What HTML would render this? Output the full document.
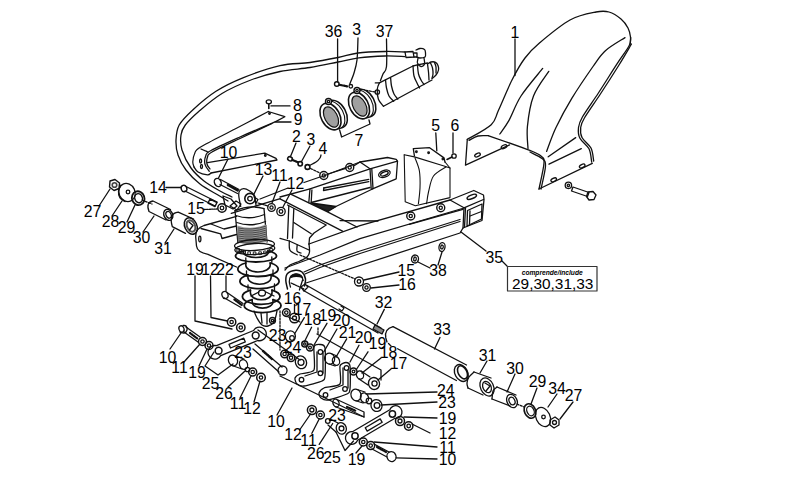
<!DOCTYPE html>
<html><head><meta charset="utf-8"><style>
html,body{margin:0;padding:0;background:#fff;width:800px;height:490px;overflow:hidden}
svg{display:block}
text{font-family:"Liberation Sans",sans-serif;font-size:15.8px;fill:#000}
</style></head><body>
<svg width="800" height="490" viewBox="0 0 800 490">
<g fill="none" stroke="#111" stroke-width="1.3" stroke-linecap="round" stroke-linejoin="round">
<path d="M405.0,52.0 C401.7,51.9 392.8,51.3 385.0,51.5 C377.2,51.7 365.8,52.0 358.0,53.0 C350.2,54.0 346.0,55.9 338.0,57.5 C330.0,59.1 319.7,61.1 310.0,62.5 C300.3,63.9 291.1,63.1 280.0,65.6 C268.9,68.1 254.2,73.3 243.5,77.6 C232.8,81.9 224.4,85.9 216.0,91.3 C207.6,96.7 199.1,104.1 193.0,109.7 C186.9,115.3 182.0,120.0 179.2,125.0 C176.4,130.1 176.2,135.0 176.0,140.0 C175.8,145.0 176.3,150.0 178.0,155.0 C179.7,160.0 182.3,165.2 186.0,170.0 C189.7,174.8 194.7,179.8 200.0,184.0 C205.3,188.2 213.3,192.2 218.0,195.0 C222.7,197.8 226.3,200.0 228.0,201.0" />
<path d="M405.0,56.6 C401.7,56.5 392.7,55.8 385.0,56.0 C377.3,56.2 366.6,56.8 358.8,57.8 C351.0,58.8 346.1,60.4 338.0,62.0 C329.9,63.6 319.7,65.9 310.0,67.5 C300.3,69.1 290.1,69.3 280.0,71.5 C269.9,73.7 259.3,76.8 249.6,80.5 C239.9,84.2 230.4,88.4 222.0,93.5 C213.6,98.6 205.1,106.0 199.0,111.2 C192.9,116.5 188.3,121.0 185.3,125.0 C182.3,129.0 181.6,130.8 181.0,135.0 C180.4,139.2 180.3,144.5 182.0,150.0 C183.7,155.5 187.3,162.8 191.0,168.0 C194.7,173.2 199.2,177.2 204.0,181.0 C208.8,184.8 215.3,188.3 220.0,191.0 C224.7,193.7 230.0,196.0 232.0,197.0" />
<path d="M467.3,139.4 C471.3,137.0 486.0,129.6 491.2,124.7 C496.4,119.8 495.1,117.5 498.6,110.0 C502.1,102.5 507.6,88.7 512.0,80.0 C516.4,71.3 520.3,64.2 525.0,58.0 C529.7,51.8 532.5,48.8 540.0,42.5 C547.5,36.2 560.7,25.1 570.0,20.0 C579.3,14.9 589.5,13.3 596.0,12.0 C602.5,10.7 604.8,10.8 609.0,12.0 C613.2,13.2 617.8,16.3 621.0,19.0 C624.2,21.7 626.4,24.9 628.0,28.0 C629.6,31.1 630.3,34.7 630.6,37.5 C630.9,40.3 630.1,43.8 630.0,45.0" />
<path d="M467.3,139.4 L465.5,165.1 L509.6,144.9" />
<path d="M469.0,140.3 C470.5,139.6 474.8,136.8 478.0,136.0 C481.2,135.2 486.8,135.8 488.5,135.7" />
<path d="M488.5,135.7 C495.4,138.1 521.0,147.0 529.8,150.4 C538.5,153.8 538.6,153.9 541.0,156.0 C543.4,158.1 544.3,157.5 544.0,163.0 C543.7,168.5 539.8,184.7 539.0,189.0" />
<path d="M530.0,152.0 C532.0,153.1 539.4,156.2 542.0,158.5 C544.6,160.8 545.7,160.9 545.5,166.0 C545.3,171.1 541.8,185.2 541.0,189.0" />
<path d="M539.0,189.0 L592.3,163.3" />
<path d="M630.6,37.5 C630.3,38.9 631.3,41.6 629.0,46.0 C626.7,50.4 622.1,56.1 617.0,63.9 C611.9,71.7 604.2,84.2 598.4,93.0 C592.6,101.8 585.7,111.2 582.4,117.0 C579.1,122.8 578.9,124.0 578.5,127.5 C578.1,131.0 578.0,134.4 579.8,138.0 C581.5,141.6 587.0,144.8 589.0,148.8 C591.0,152.8 591.2,159.8 591.7,162.0" />
<path d="M631.5,44.0 C629.4,47.5 624.2,56.7 619.0,65.0 C613.8,73.3 606.2,85.2 600.4,94.0 C594.6,102.8 587.7,112.4 584.4,118.0 C581.1,123.6 581.1,124.2 580.7,127.5 C580.3,130.8 580.3,134.1 582.0,137.5 C583.7,140.9 589.0,144.1 591.0,148.0 C593.0,151.9 593.2,158.8 593.7,161.0" />
<path d="M625.0,37.6 C621.7,39.8 610.7,45.9 605.4,50.7 C600.1,55.5 598.6,58.5 593.0,66.5 C587.4,74.5 578.0,88.2 571.8,98.4 C565.6,108.6 560.2,118.7 556.0,127.5 C551.8,136.3 548.2,147.4 546.6,151.4" />
<path d="M542.7,68.4 C539.1,73.0 526.6,87.3 521.0,96.0 C515.4,104.7 512.5,114.1 509.0,120.4 C505.5,126.7 501.3,131.7 499.8,134.0" />
<path d="M548.8,71.4 C546.2,75.5 537.1,86.8 533.5,96.0 C529.9,105.2 528.3,117.8 527.4,126.6 C526.5,135.4 527.9,144.9 528.0,148.6" />
<path d="M548.2,156.8 L575.7,137.6" />
<path d="M549.0,164.2 L581.3,148.6" />
<ellipse cx="477.5" cy="155" rx="3" ry="1.6" transform="rotate(-25 477.5 155)" />
<ellipse cx="504" cy="146.7" rx="3" ry="1.6" transform="rotate(-25 504 146.7)" />
<ellipse cx="553.7" cy="179.8" rx="3" ry="1.6" transform="rotate(-25 553.7 179.8)" />
<ellipse cx="582.2" cy="166" rx="3" ry="1.6" transform="rotate(-25 582.2 166)" />
<circle cx="568.4" cy="185.3" r="3.2" />
<circle cx="568.4" cy="185.3" r="1.2" />
<path d="M573.0,187.0 L589.0,192.5 L587.5,196.5 L571.5,191.0Z" />
<path d="M588.0,192.0 L593.0,191.5 L596.0,195.0 L594.0,199.5 L589.0,200.0 L586.5,196.5Z" stroke-width="1.3"/>
<line x1="515" y1="39" x2="515" y2="75.5" />
<path d="M379.4,82.9 L413.0,66.0 L417.4,64.8 L427.5,63.0" />
<path d="M383.5,106.3 L432.0,80.0" />
<path d="M379.4,82.9 C379.0,83.9 377.5,86.3 377.3,89.0 C377.1,91.7 377.4,96.3 378.4,99.2 C379.4,102.1 382.6,105.1 383.5,106.3" />
<path d="M375.3,82.9 L379.4,82.9" />
<path d="M385.5,79.8 C385.7,81.2 385.9,85.3 386.5,88.0 C387.1,90.7 387.8,93.8 389.0,96.0 C390.2,98.2 392.9,100.3 393.7,101.2" />
<path d="M390.6,77.8 C390.8,79.2 390.9,83.3 391.5,86.0 C392.1,88.7 392.9,91.8 394.0,94.0 C395.1,96.2 397.2,98.3 397.8,99.2" />
<path d="M413.0,66.0 C413.2,67.7 413.3,73.2 414.0,76.0 C414.7,78.8 416.1,81.0 417.0,83.0 C417.9,85.0 419.2,87.2 419.6,88.0" />
<path d="M417.4,64.8 C417.6,66.3 417.9,71.5 418.5,74.0 C419.1,76.5 420.1,78.2 421.0,80.0 C421.9,81.8 423.5,83.8 424.0,84.5" />
<path d="M427.5,64.0 C428.1,63.7 429.7,62.3 431.0,62.0 C432.3,61.7 434.3,61.7 435.5,62.3 C436.7,62.9 437.5,64.2 438.0,65.5 C438.5,66.8 438.8,68.4 438.5,70.0 C438.2,71.6 437.1,73.6 436.0,75.0 C434.9,76.4 432.7,77.9 432.0,78.5" />
<path d="M430.5,63.0 C430.8,63.8 432.1,66.2 432.5,68.0 C432.9,69.8 433.1,72.3 433.0,74.0 C432.9,75.7 432.2,77.3 432.0,78.0" />
<path d="M434.5,62.5 C434.8,63.2 435.8,65.2 436.0,67.0 C436.2,68.8 436.0,72.0 436.0,73.0" />
<path d="M427.5,64.0 C427.7,65.3 428.2,69.3 428.5,72.0 C428.8,74.7 428.9,78.7 429.0,80.0" />
<path d="M405.0,52.0 L413.0,51.5 L414.0,57.0 L406.0,57.5Z" />
<path d="M414.0,53.0 L417.0,53.0 L417.0,57.0 L414.0,57.0" />
<path d="M416.0,50.0 C416.7,49.8 418.6,48.6 420.0,48.5 C421.4,48.4 423.6,48.8 424.5,49.5 C425.4,50.2 425.4,51.8 425.5,53.0 C425.6,54.2 425.9,56.2 425.0,57.0 C424.1,57.8 421.4,58.0 420.0,58.0 C418.6,58.0 417.1,57.2 416.5,57.0" />
<path d="M418.0,58.4 C417.9,59.2 417.0,61.6 417.5,63.0 C418.0,64.3 419.8,66.3 421.0,66.5 C422.2,66.7 424.0,65.4 424.5,64.0 C425.0,62.6 424.1,59.0 424.0,58.0" />
<circle cx="377.3" cy="92" r="2.2" />
<path d="M359,89 L375,92" stroke-dasharray="2,1.5"/>
<circle cx="336.8" cy="84" r="2.3" stroke-width="1.4"/>
<path d="M339.5,84.8 L348,86.5" stroke-width="2.2" stroke-dasharray="1.2,1"/>
<circle cx="350.8" cy="86.3" r="1.8" />
<ellipse cx="336.5" cy="114" rx="9.5" ry="14.8" transform="rotate(-28 336.5 114)" fill="#fff" stroke-width="1.5"/>
<ellipse cx="334" cy="115" rx="9.5" ry="14.8" transform="rotate(-28 334 115)" fill="#fff" stroke-width="1.1"/>
<ellipse cx="330.5" cy="116.5" rx="9.3" ry="14.3" transform="rotate(-28 330.5 116.5)" fill="#fff" stroke-width="1.6"/>
<ellipse cx="331" cy="117" rx="6.3" ry="11" transform="rotate(-28 331 117)" fill="#a0a0a0" stroke-width="1.2"/>
<circle cx="328.5" cy="101.5" r="3" fill="#fff" stroke-width="1.4"/>
<circle cx="328.5" cy="101.5" r="1.2" />
<ellipse cx="365.0" cy="103" rx="9.5" ry="14.8" transform="rotate(-28 365.0 103)" fill="#fff" stroke-width="1.5"/>
<ellipse cx="362.5" cy="104" rx="9.5" ry="14.8" transform="rotate(-28 362.5 104)" fill="#fff" stroke-width="1.1"/>
<ellipse cx="359.0" cy="105.5" rx="9.3" ry="14.3" transform="rotate(-28 359.0 105.5)" fill="#fff" stroke-width="1.6"/>
<ellipse cx="359.5" cy="106" rx="6.3" ry="11" transform="rotate(-28 359.5 106)" fill="#a0a0a0" stroke-width="1.2"/>
<circle cx="357.0" cy="90.5" r="3" fill="#fff" stroke-width="1.4"/>
<circle cx="357.0" cy="90.5" r="1.2" />
<path d="M339.6,129.8 L341.6,137.0 L370.0,124.0 L369.0,120.0" />
<line x1="337.6" y1="39" x2="337.6" y2="81.5" />
<path d="M358.0,38.0 C357.8,41.7 357.7,54.2 357.0,60.0 C356.3,65.8 355.2,69.0 354.0,73.0 C352.8,77.0 350.5,82.1 349.8,83.9" />
<path d="M386.5,39.0 C386.5,43.6 387.1,60.7 386.5,66.5 C385.9,72.3 384.0,71.6 383.0,74.0 C382.0,76.4 380.8,79.7 380.4,80.8" />
<ellipse cx="268.8" cy="101.8" rx="2.6" ry="2" transform="rotate(0 268.8 101.8)" stroke-width="1.3"/>
<line x1="268.8" y1="103.8" x2="268.8" y2="108.5" stroke-width="1.6"/>
<line x1="271" y1="105.9" x2="290" y2="105.9" stroke-width="1.3"/>
<path d="M268.3,111.5 C262.8,114.4 246.3,123.1 235.0,129.0 C223.7,134.9 207.3,142.8 200.6,147.0 C193.8,151.2 195.8,151.5 194.5,154.0 C193.2,156.5 192.9,159.6 192.8,161.8 C192.7,164.0 193.8,166.1 194.0,167.0" stroke-width="1.2"/>
<path d="M268.3,111.5 L284.8,116.7 L275.2,121.9" />
<path d="M275.2,121.9 C269.3,124.4 250.7,132.2 240.0,137.0 C229.3,141.8 216.7,147.4 211.0,150.5 C205.3,153.6 206.8,153.4 205.8,155.7 C204.8,158.0 204.4,161.8 205.0,164.4 C205.6,167.0 208.6,170.2 209.3,171.3" />
<path d="M272.0,123.5 C266.7,126.0 250.0,133.8 240.0,138.5 C230.0,143.2 217.4,148.9 212.0,152.0 C206.6,155.1 208.3,155.0 207.5,157.0 C206.7,159.0 206.6,162.0 207.0,164.0 C207.4,166.0 209.5,168.2 210.0,169.0" />
<path d="M207.5,162.7 L264.8,153.1 L276.0,158.3 L277.0,160.0 L211.0,173.0" />
<path d="M194.0,167.0 C194.7,167.8 195.8,170.7 198.0,172.0 C200.2,173.3 205.3,174.6 207.5,174.8 C209.7,175.0 210.4,173.3 211.0,173.0" />
<ellipse cx="200.6" cy="161" rx="1" ry="2" transform="rotate(0 200.6 161)" />
<ellipse cx="201.5" cy="166.5" rx="1" ry="2" transform="rotate(0 201.5 166.5)" />
<circle cx="269.5" cy="113.5" r="0.8" />
<circle cx="265.3" cy="155.5" r="0.8" />
<line x1="276" y1="122" x2="291" y2="122" />
<path d="M201,149 L208,152" stroke-dasharray="1.5,1"/>
<ellipse cx="290" cy="158.8" rx="2.4" ry="2" transform="rotate(25 290 158.8)" stroke-width="1.5"/>
<path d="M292.5,160 L298,162.3" stroke-width="2.2" stroke-dasharray="1,0.8"/>
<circle cx="300.2" cy="163.8" r="2.2" stroke-width="1.6"/>
<circle cx="307.5" cy="167" r="2.4" stroke-width="1.6"/>
<path d="M309.5,165.5 C310.6,164.9 314.2,163.2 316.0,162.0 C317.8,160.8 319.2,159.2 320.0,158.0 C320.8,156.8 320.8,155.5 321.0,155.0" />
<line x1="296" y1="143" x2="290.5" y2="156.5" />
<line x1="310" y1="146" x2="301.5" y2="161.5" />
<path d="M310.5,168.5 L320,173" stroke-dasharray="2,1.5"/>
<line x1="304" y1="182.5" x2="320" y2="177" />
<path d="M414.4,155.9 L413.3,148.7 L429.6,147.7 L444.0,157.9 L445.0,162.0" />
<path d="M404.2,154.8 L405.2,201.7 L415.4,205.8 L450.0,197.6 L450.0,168.0 L445.0,162.0" stroke-width="1.1"/>
<path d="M404.2,154.8 L414.4,156.9 L444.0,166.0 L450.0,168.0" stroke-width="1.1"/>
<path d="M415.0,157.9 C415.7,160.1 418.6,166.0 419.4,171.0 C420.2,176.0 420.2,182.6 420.0,188.0 C419.8,193.4 418.7,201.1 418.4,203.7" stroke-width="1.1"/>
<path d="M446.0,167.0 C443.9,168.5 436.4,171.9 433.5,176.0 C430.6,180.1 429.8,186.9 428.6,191.5 C427.5,196.1 426.9,201.7 426.6,203.7" stroke-width="1.1"/>
<circle cx="416.4" cy="151.8" r="0.8" />
<circle cx="428.6" cy="152.8" r="0.8" />
<circle cx="442.9" cy="159" r="0.8" />
<line x1="435.8" y1="133" x2="436.8" y2="150.8" />
<line x1="453" y1="133" x2="453" y2="153" />
<circle cx="454" cy="156" r="2.2" />
<path d="M452.0,157.0 L447.0,159.5" stroke-width="1.6"/>
<path d="M321.0,177.0 L360.0,162.0 L387.5,157.5 L396.2,159.4 L397.5,161.2 L396.2,178.8 L372.5,188.8" />
<path d="M280.0,197.0 L310.0,188.8 L370.0,168.8 L397.5,161.2" />
<path d="M360.0,162.0 L370.0,168.8 L371.2,188.8" />
<path d="M371.8,169.0 L373.0,188.5" />
<path d="M310.0,188.8 L308.8,202.5" />
<path d="M311.9,190.0 L311.2,202.0" />
<path d="M311.2,202.5 L370.0,187.5" />
<path d="M327.5,210.5 L372.5,189.0" />
<path d="M323.8,188.0 L368.8,179.4" />
<path d="M323.8,188.0 L323.5,190.5 L368.8,181.6" />
<path d="M311.0,203.0 L328.0,211.5 L336.0,206.5Z" fill="#222"/>
<ellipse cx="384.4" cy="173.75" rx="6" ry="3.4" transform="rotate(-20 384.4 173.75)" stroke-width="1.3"/>
<ellipse cx="384.4" cy="173.75" rx="4" ry="1.8" transform="rotate(-20 384.4 173.75)" />
<circle cx="323.8" cy="175.5" r="4" stroke-width="1.4"/>
<circle cx="323.8" cy="175.5" r="1.6" />
<circle cx="349.7" cy="167.5" r="4" stroke-width="1.4"/>
<circle cx="349.7" cy="167.5" r="1.6" />
<path d="M327.8,174.0 L345.8,168.3" />
<path d="M353.7,166.0 L360.0,162.0" />
<path d="M231.2,213.4 L280.3,198.6" />
<path d="M291.2,194.4 L327.5,211.9 L357.0,227.0" />
<path d="M280.0,198.8 L342.5,231.2" />
<path d="M287.5,205.0 L326.2,225.0 L314.0,233.0 L309.5,238.0 L309.0,244.0" />
<path d="M293.8,222.5 L311.2,233.8" />
<path d="M288.8,206.2 L287.5,238.5" />
<path d="M293.8,208.8 L292.5,238.0" />
<path d="M340.0,220.6 L378.0,221.0" />
<path d="M280.0,238.3 L289.3,241.0 L309.0,250.0" />
<path d="M289.3,241.0 C289.4,242.5 288.7,247.9 290.0,250.2 C291.3,252.5 296.0,254.0 297.2,254.8" />
<path d="M297.2,244.9 C297.2,245.9 296.4,249.7 297.0,251.0 C297.6,252.3 300.3,252.7 301.0,253.0" />
<path d="M309.0,244.0 C309.1,245.3 309.8,249.8 309.5,252.0 C309.2,254.2 308.6,255.5 307.0,257.0 C305.4,258.5 302.8,259.7 300.0,261.0 C297.2,262.3 292.5,263.5 290.0,265.0 C287.5,266.5 285.8,269.2 285.0,270.0" />
<path d="M309.0,244.0 L360.0,225.7 L450.0,200.0 L473.8,190.5 L483.5,195.0 L484.0,199.5 L482.0,220.5 L463.0,228.0 L460.0,233.0 L306.0,283.0" stroke-width="1.3"/>
<path d="M285.0,268.0 L320.0,255.0 L360.0,238.6 L464.0,208.0" />
<path d="M304.0,272.0 L320.0,265.0 L360.0,251.0 L460.0,219.5" />
<path d="M305.0,274.0 L320.0,267.5 L360.0,253.5 L460.0,221.5" />
<path d="M409.3,224.3 L462.9,209.3" />
<path d="M450.0,200.0 L464.0,207.8 L463.0,228.0" />
<path d="M465.5,208.0 L464.5,227.0" />
<path d="M464.0,207.8 L483.5,199.5" />
<path d="M467.5,210.5 L482.0,204.0 L481.5,219.0 L467.0,226.0Z" />
<path d="M470.0,211.0 L469.5,224.0" />
<path d="M470.0,216.0 L481.5,211.5" />
<ellipse cx="471.8" cy="196.8" rx="5" ry="1.8" transform="rotate(-22 471.8 196.8)" stroke-width="1.5"/>
<circle cx="410.75" cy="216" r="4" stroke-width="1.4"/>
<circle cx="410.75" cy="216" r="1.6" />
<circle cx="440.75" cy="207.75" r="4" stroke-width="1.4"/>
<circle cx="440.75" cy="207.75" r="1.6" />
<path d="M287.5,289.0 C287.2,287.5 285.8,282.6 285.8,280.0 C285.8,277.4 285.9,275.1 287.5,273.5 C289.1,271.9 293.3,270.6 295.7,270.3 C298.1,270.1 300.4,270.6 302.0,272.0 C303.6,273.4 305.1,276.7 305.5,279.0 C305.9,281.3 304.7,284.8 304.5,286.0" stroke-width="1.5"/>
<path d="M290.5,287.0 C290.3,286.1 289.2,283.4 289.3,281.6 C289.4,279.8 289.9,277.3 291.0,276.0 C292.1,274.7 294.0,273.9 295.7,273.8 C297.4,273.7 299.8,274.4 301.0,275.5 C302.2,276.6 302.8,279.7 303.2,280.5" />
<path d="M290.8,277.5 Q295.5,270.8 302.5,277.5 Q296,275 290.8,277.5 Z" fill="#111"/>
<path d="M291,283 L304,289" stroke-dasharray="1.5,1"/>
<path d="M236.5,216.4 L204,225.5 C198,227.5 195.5,231 195.7,237 L196.5,246 C197,250.5 201,253 208,254.4 L236.5,267" />
<path d="M201.0,228.5 L220.6,233.8 L222.0,238.5 L236.5,234.5" />
<path d="M211.0,224.0 L224.0,229.0 L236.5,226.0" />
<ellipse cx="199.8" cy="239" rx="1.1" ry="2.8" transform="rotate(0 199.8 239)" />
<line x1="461" y1="232" x2="486" y2="251" />
<line x1="502" y1="261" x2="507" y2="266" />
<ellipse cx="442" cy="247" rx="3" ry="4.5" transform="rotate(10 442 247)" />
<ellipse cx="442" cy="247" rx="1.3" ry="2" transform="rotate(10 442 247)" />
<ellipse cx="415" cy="259" rx="3.5" ry="4" transform="rotate(10 415 259)" />
<ellipse cx="415" cy="259" rx="1.3" ry="2" transform="rotate(10 415 259)" />
<path d="M442.0,252.0 L438.0,265.0" />
<path d="M418.0,262.0 L430.0,268.0" />
<circle cx="359" cy="281.5" r="4.5" />
<circle cx="359" cy="281.5" r="1.8" />
<circle cx="366.5" cy="287.5" r="3.8" />
<circle cx="366.5" cy="287.5" r="1.6" />
<line x1="364" y1="280" x2="399" y2="272" />
<line x1="371" y1="288" x2="399" y2="285" />
<path d="M300,255 L355,279" stroke-dasharray="2,1.5"/>
<rect x="507.5" y="266.5" width="89.5" height="24.5" stroke="#333" stroke-width="1.2"/>
<path d="M240.7,206.4 C240.4,204.7 239.0,198.6 238.8,196.0 C238.6,193.4 238.7,192.2 239.5,191.0 C240.3,189.8 242.0,188.7 243.6,188.6 C245.2,188.5 247.6,189.6 249.3,190.7 C251.0,191.8 252.9,192.6 254.0,195.0 C255.1,197.4 255.7,203.3 256.0,205.0" />
<circle cx="250" cy="198.6" r="5.2" stroke-width="1.6"/>
<circle cx="250" cy="198.6" r="2.3" />
<path d="M254.0,197.0 L258.0,199.5 L256.0,203.0" />
<path d="M235,210.7 Q249.5,204.5 264,208.6" />
<path d="M235.0,210.7 L237.9,243.0" />
<path d="M264.0,208.6 L267.0,242.0" />
<path d="M235.8,215.5 Q250,220.5 264.5,214.5" />
<path d="M236.8,222.5 Q250.5,227.5 265.5,221.5" />
<path d="M237.3,225.5 Q251,230.5 266,224.5 L267,242 Q252,245 238,243 Z" fill="#9a9a9a" stroke="none"/>
<path d="M238,228 Q252,231 266.5,226" stroke="#333" stroke-width="0.8"/>
<path d="M238,230 Q252,233 266.5,228" stroke="#333" stroke-width="0.8"/>
<path d="M238,232 Q252,235 266.5,230" stroke="#333" stroke-width="0.8"/>
<path d="M238,234 Q252,237 266.5,232" stroke="#333" stroke-width="0.8"/>
<path d="M238,236 Q252,239 266.5,234" stroke="#333" stroke-width="0.8"/>
<path d="M238,238 Q252,241 266.5,236" stroke="#333" stroke-width="0.8"/>
<path d="M238,240 Q252,243 266.5,238" stroke="#333" stroke-width="0.8"/>
<path d="M238,242 Q252,245 266.5,240" stroke="#333" stroke-width="0.8"/>
<ellipse cx="254.5" cy="245" rx="20" ry="5.5" transform="rotate(-3 254.5 245)" stroke-width="1.3"/>
<ellipse cx="254.8" cy="249" rx="20" ry="5.5" transform="rotate(-3 254.8 249)" stroke-width="1.3"/>
<rect x="237.2" y="248.5" width="2.2" height="2.8" stroke-width="0.9"/>
<rect x="239.5" y="249.9" width="2.2" height="2.8" stroke-width="0.9"/>
<rect x="243.3" y="251.0" width="2.2" height="2.8" stroke-width="0.9"/>
<rect x="248.2" y="251.8" width="2.2" height="2.8" stroke-width="0.9"/>
<rect x="253.7" y="252.0" width="2.2" height="2.8" stroke-width="0.9"/>
<rect x="259.2" y="251.8" width="2.2" height="2.8" stroke-width="0.9"/>
<rect x="264.1" y="251.0" width="2.2" height="2.8" stroke-width="0.9"/>
<rect x="267.9" y="249.9" width="2.2" height="2.8" stroke-width="0.9"/>
<rect x="270.2" y="248.5" width="2.2" height="2.8" stroke-width="0.9"/>
<path d="M243.5,251.2 A20.5,6 0 0 0 235.5,256.0 A20.5,6 0 0 0 276.5,256.0 A20.5,6 0 0 0 268.5,251.2" stroke-width="1.8"/>
<path d="M243.5,251.2 L243.5,252.3 A12.5,5.2 0 0 0 268.5,252.3 L268.5,251.2" stroke-width="1.6"/>
<path d="M245.8,263.0 A20.2,7.5 0 0 0 237.8,269.0 A20.2,7.5 0 0 0 278.2,269.0 A20.2,7.5 0 0 0 270.2,263.0" stroke-width="1.8"/>
<path d="M245.8,263.0 L245.8,265.3 A12.2,6.7 0 0 0 270.2,265.3 L270.2,263.0" stroke-width="1.6"/>
<path d="M247.9,275.2 A19.6,7.5 0 0 0 239.9,281.2 A19.6,7.5 0 0 0 279.1,281.2 A19.6,7.5 0 0 0 271.1,275.2" stroke-width="1.8"/>
<path d="M247.9,275.2 L247.9,277.5 A11.6,6.7 0 0 0 271.1,277.5 L271.1,275.2" stroke-width="1.6"/>
<path d="M250.4,290.1 A18.8,7.8 0 0 0 242.4,296.5 A18.8,7.8 0 0 0 280.0,296.5 A18.8,7.8 0 0 0 272.0,290.1" stroke-width="1.8"/>
<path d="M250.4,290.1 L250.4,292.8 A10.8,7.0 0 0 0 272.0,292.8 L272.0,290.1" stroke-width="1.6"/>
<path d="M252.2,299.6 A18.4,7.1 0 0 0 244.2,305.5 A18.4,7.1 0 0 0 281.0,305.5 A18.4,7.1 0 0 0 273.0,299.6" stroke-width="1.8"/>
<path d="M252.2,299.6 L252.2,301.8 A10.4,6.3 0 0 0 273.0,301.8 L273.0,299.6" stroke-width="1.6"/>
<line x1="245.8" y1="258" x2="245.8" y2="263" />
<line x1="271.8" y1="257" x2="271.8" y2="263" />
<line x1="246.5" y1="271" x2="246.5" y2="276" />
<line x1="273" y1="270" x2="273" y2="276" />
<line x1="248" y1="285" x2="248" y2="290" />
<line x1="274.5" y1="284" x2="274.5" y2="290" />
<ellipse cx="262" cy="293" rx="3.5" ry="3" transform="rotate(0 262 293)" />
<path d="M251.0,296.0 L259.0,292.0" />
<path d="M266.0,292.0 L274.0,296.0" />
<path d="M254.0,311.0 C254.5,312.2 255.7,315.7 257.0,318.0 C258.3,320.3 260.2,323.7 262.0,325.0 C263.8,326.3 266.0,326.5 268.0,326.0 C270.0,325.5 272.5,324.5 274.0,322.0 C275.5,319.5 276.5,312.8 277.0,311.0" />
<line x1="261" y1="313" x2="262" y2="323" />
<line x1="267" y1="313" x2="267" y2="324" />
<circle cx="272.5" cy="320.5" r="3" />
<circle cx="272.5" cy="320.5" r="1.2" />
<path d="M110.0,181.0 L115.0,179.5 L119.5,183.0 L119.0,188.5 L114.0,190.5 L109.5,187.0Z" stroke-width="1.4"/>
<circle cx="114.5" cy="185" r="2.3" stroke-width="1.6" stroke="#444"/>
<ellipse cx="127" cy="192.5" rx="8" ry="9.3" transform="rotate(-25 127 192.5)" />
<path d="M121.0,185.0 C120.6,186.0 118.7,188.8 118.5,191.0 C118.3,193.2 118.9,196.2 120.0,198.0 C121.1,199.8 124.2,200.9 125.0,201.5" />
<ellipse cx="128" cy="192" rx="1.8" ry="1.8" transform="rotate(0 128 192)" />
<ellipse cx="138.2" cy="198.2" rx="6.2" ry="7" transform="rotate(-20 138.2 198.2)" stroke-width="1.8"/>
<ellipse cx="138.6" cy="198.2" rx="3.8" ry="4.6" transform="rotate(-20 138.6 198.2)" stroke-width="1.4"/>
<path d="M170.5,209.5 L153,201 Q145.5,202 149,211.5 L166,220" />
<ellipse cx="168.3" cy="214.8" rx="4.3" ry="5.8" transform="rotate(-25 168.3 214.8)" stroke-width="1.4"/>
<ellipse cx="168.6" cy="214.8" rx="2.5" ry="3.5" transform="rotate(-25 168.6 214.8)" />
<path d="M193.5,219 L178.2,212.1 Q168.5,213 172.3,226.7 L185.5,233.4" />
<ellipse cx="190.8" cy="226" rx="6" ry="8.6" transform="rotate(-25 190.8 226)" stroke-width="1.5"/>
<ellipse cx="191" cy="226" rx="4" ry="6" transform="rotate(-25 191 226)" stroke-width="2" stroke="#555"/>
<path d="M189.0,222.0 L193.0,225.5 L189.5,230.0" />
<path d="M142,200 L152,204" stroke-dasharray="2,1.5"/>
<line x1="99" y1="206" x2="110" y2="189" />
<line x1="112" y1="216" x2="122" y2="201" />
<line x1="127" y1="222" x2="135" y2="205" />
<line x1="143" y1="232" x2="154" y2="216" />
<line x1="165" y1="243" x2="174" y2="229" />
<line x1="166" y1="187.5" x2="181" y2="187.5" />
<ellipse cx="184" cy="188.5" rx="2.8" ry="3.3" transform="rotate(-20 184 188.5)" stroke-width="1.4"/>
<path d="M186.0,186.5 L217.0,202.0" />
<path d="M185.0,191.0 L215.0,206.0" />
<path d="M210.0,199.0 L217.0,202.5 L215.0,206.5 L208.0,203.0Z" stroke-width="1.4"/>
<circle cx="222" cy="208" r="4.2" stroke-width="1.5"/>
<circle cx="222" cy="208" r="1.8" stroke-width="1.3"/>
<path d="M204,209.5 L217,209" stroke-dasharray="1.5,1"/>
<ellipse cx="217.8" cy="182.5" rx="3.3" ry="4.3" transform="rotate(-25 217.8 182.5)" stroke-width="1.4"/>
<path d="M220.5,179.5 L239.0,189.5" />
<path d="M220.0,184.5 L237.5,193.5" />
<path d="M228,185 L238,190.5" stroke-width="2.6" stroke-dasharray="1,1"/>
<line x1="228" y1="159" x2="218.5" y2="178" />
<path d="M223.0,196.0 L231.0,199.0 L237.0,206.0 L233.0,209.0 L225.0,205.0Z" />
<path d="M230.0,206.0 L236.0,201.0 L241.0,204.0 L237.0,210.0Z" />
<line x1="263" y1="176" x2="254" y2="194" />
<circle cx="271.5" cy="207.5" r="3.8" />
<circle cx="271.5" cy="207.5" r="1.6" />
<circle cx="281" cy="211.5" r="4.2" />
<circle cx="281" cy="211.5" r="1.8" />
<line x1="280" y1="182" x2="272" y2="203" />
<line x1="292" y1="190" x2="283" y2="207" />
<path d="M260.0,199.0 L288.0,188.0" />
<path d="M258,203 L268,206" stroke-dasharray="1.5,1"/>
<path d="M220.7,355.7 L257.8,340.5 A6.8,6.8 0 1 0 253.6,330.5 L216.5,345.7 A6.8,6.8 0 1 0 220.7,355.7Z" stroke-width="1.3"/>
<circle cx="218.6" cy="350.7" r="3.4" stroke-width="1.5"/>
<circle cx="255.7" cy="335.5" r="3.4" stroke-width="1.5"/>
<path d="M230.5,348.0 L245.3,341.9 L243.8,338.2 L229.0,344.3Z" />
<path d="M183.0,325.5 C183.5,325.6 185.3,325.2 186.0,326.0 C186.7,326.8 187.3,328.8 187.0,330.0 C186.7,331.2 185.2,332.7 184.0,333.0 C182.8,333.3 180.7,332.2 180.0,332.0" />
<ellipse cx="181.5" cy="329" rx="2.5" ry="3.3" transform="rotate(-20 181.5 329)" />
<path d="M186.0,327.0 L200.0,337.0" />
<path d="M184.0,332.0 L198.0,342.0" />
<path d="M190,333 L198,339" stroke-width="2.2" stroke-dasharray="1,1"/>
<circle cx="202.5" cy="341.5" r="4" stroke-width="1.5"/>
<circle cx="202.5" cy="341.5" r="1.7" stroke-width="1.3"/>
<circle cx="209" cy="345.5" r="4" stroke-width="1.5"/>
<circle cx="209" cy="345.5" r="1.7" stroke-width="1.3"/>
<circle cx="231.6" cy="322" r="4.2" stroke-width="1.5"/>
<circle cx="231.6" cy="322" r="1.7" stroke-width="1.3"/>
<circle cx="240.8" cy="327.5" r="4.2" stroke-width="1.5"/>
<circle cx="240.8" cy="327.5" r="1.7" stroke-width="1.3"/>
<ellipse cx="225" cy="295" rx="3" ry="3.6" transform="rotate(-20 225 295)" />
<path d="M227.0,292.5 L243.0,303.5" />
<path d="M224.5,298.0 L241.0,307.5" />
<path d="M234.5,299.5 L242.5,305.5" stroke-width="2.4" stroke-dasharray="1,1"/>
<ellipse cx="233" cy="360.5" rx="4.5" ry="5.5" transform="rotate(-20 233 360.5)" stroke-width="1.3"/>
<path d="M234.0,355.5 L244.0,359.0" />
<path d="M232.0,365.5 L242.0,369.0" />
<ellipse cx="243.5" cy="364.5" rx="4" ry="5" transform="rotate(-20 243.5 364.5)" />
<circle cx="247.5" cy="369.5" r="2.2" />
<circle cx="252.7" cy="372" r="4" stroke-width="1.5"/>
<circle cx="252.7" cy="372" r="1.7" stroke-width="1.3"/>
<circle cx="261" cy="377.5" r="4.3" stroke-width="1.5"/>
<circle cx="261" cy="377.5" r="1.7" stroke-width="1.3"/>
<path d="M255.0,344.0 L282.0,367.0" />
<path d="M253.0,349.0 L279.0,372.0" />
<ellipse cx="282.5" cy="370.5" rx="4.5" ry="4.5" transform="rotate(0 282.5 370.5)" />
<path d="M263,351 L272,359" stroke-width="2.4" stroke-dasharray="1,1"/>
<path d="M195.0,276.0 L195.0,321.0 L232.0,329.0" />
<path d="M210.5,276.0 L211.0,317.5 L227.5,321.0" />
<path d="M226.0,276.0 L226.0,291.0" />
<line x1="170" y1="349" x2="181" y2="333" />
<line x1="184" y1="362" x2="200" y2="344" />
<line x1="199" y1="366" x2="207" y2="349" />
<path d="M214.0,352.0 L205.0,366.0 L218.0,375.0 L233.0,364.0" />
<line x1="228" y1="387" x2="245" y2="371" />
<line x1="240" y1="398" x2="251" y2="376" />
<line x1="254" y1="402" x2="260" y2="381" />
<path d="M277.0,415.0 L292.0,388.0" />
<path d="M280.0,376.0 L364.0,417.0" />
<path d="M258.0,330.0 L300.0,360.0" />
<path d="M314.0,347.0 C314.7,344.0 318.7,344.4 320.0,344.5 C321.3,344.6 324.4,344.3 325.0,348.0 C325.6,351.7 325.4,372.1 325.0,376.0 C324.6,379.9 324.4,379.8 322.0,381.0 C319.6,382.2 306.9,385.6 304.0,386.0 C301.1,386.4 298.1,384.9 297.0,384.0 C295.9,383.1 294.6,379.2 295.0,378.0 C295.4,376.8 297.8,374.9 300.0,374.0 C302.2,373.1 312.4,373.1 314.0,370.0 C315.6,366.9 313.3,350.0 314.0,347.0Z" stroke-width="1.3"/>
<circle cx="320.4" cy="352" r="2.3" />
<circle cx="320.4" cy="373.3" r="2.3" />
<circle cx="301.5" cy="379.7" r="2.3" />
<path d="M317.0,352.0 L317.0,372.0 L305.0,376.0" />
<path d="M323.0,352.0 L323.0,373.0" />
<path d="M340.0,366.0 C340.7,363.5 344.8,362.5 346.0,362.5 C347.2,362.5 349.5,362.9 350.0,366.0 C350.5,369.1 350.4,385.7 350.0,389.0 C349.6,392.3 349.6,392.7 347.0,394.0 C344.4,395.3 331.0,399.5 328.0,400.0 C325.0,400.5 322.1,398.8 321.0,398.0 C319.9,397.2 318.6,394.2 319.0,393.0 C319.4,391.8 321.6,389.1 324.0,388.0 C326.4,386.9 338.1,386.6 340.0,384.0 C341.9,381.4 339.3,368.5 340.0,366.0Z" stroke-width="1.3"/>
<circle cx="346.5" cy="368" r="2.3" />
<circle cx="345" cy="389" r="2.3" />
<circle cx="325.5" cy="395" r="2.3" />
<path d="M343.0,368.0 L343.0,385.0 L330.0,390.0" />
<path d="M348.0,370.0 L348.0,388.0" />
<circle cx="284.6" cy="354" r="3.8" stroke-width="1.5"/>
<circle cx="284.6" cy="354" r="1.7" stroke-width="1.3"/>
<circle cx="291" cy="357.7" r="3.8" stroke-width="1.5"/>
<circle cx="291" cy="357.7" r="1.7" stroke-width="1.3"/>
<ellipse cx="301" cy="362.3" rx="5.5" ry="6.5" transform="rotate(-20 301 362.3)" stroke-width="1.3"/>
<circle cx="301" cy="362.3" r="3" />
<ellipse cx="290.4" cy="336.3" rx="5" ry="5.5" transform="rotate(0 290.4 336.3)" />
<circle cx="292" cy="338" r="2.3" />
<circle cx="286.3" cy="312.6" r="3.8" stroke-width="1.5"/>
<circle cx="286.3" cy="312.6" r="1.7" stroke-width="1.3"/>
<circle cx="294.5" cy="318" r="4.8" stroke-width="1.5"/>
<circle cx="294.5" cy="318" r="2" stroke-width="1.3"/>
<circle cx="304.8" cy="344" r="3" stroke-width="1.5"/>
<circle cx="304.8" cy="344" r="1.2" stroke-width="1.3"/>
<circle cx="310" cy="347.6" r="3.5" stroke-width="1.5"/>
<circle cx="310" cy="347.6" r="1.4" stroke-width="1.3"/>
<ellipse cx="329.6" cy="358.6" rx="5" ry="5.5" transform="rotate(-20 329.6 358.6)" stroke-width="1.3"/>
<path d="M331.0,353.5 L337.0,356.0" />
<path d="M329.0,364.0 L335.0,366.0" />
<ellipse cx="336" cy="361" rx="3.5" ry="4.5" transform="rotate(-20 336 361)" />
<circle cx="353.5" cy="371.5" r="3.5" stroke-width="1.5"/>
<circle cx="353.5" cy="371.5" r="1.4" stroke-width="1.3"/>
<ellipse cx="360" cy="375" rx="3.5" ry="4.2" transform="rotate(-20 360 375)" />
<path d="M361.0,371.0 L370.0,377.0" />
<path d="M359.0,379.0 L368.0,385.0" />
<ellipse cx="374" cy="383.5" rx="5.5" ry="6" transform="rotate(-20 374 383.5)" stroke-width="1.4"/>
<circle cx="374.5" cy="383.5" r="2.6" />
<ellipse cx="356" cy="395" rx="5" ry="6" transform="rotate(-20 356 395)" stroke-width="1.3"/>
<path d="M357.0,389.5 L365.0,392.0" />
<path d="M355.0,400.5 L363.0,403.0" />
<ellipse cx="364.5" cy="397.8" rx="4" ry="5" transform="rotate(-20 364.5 397.8)" />
<circle cx="369" cy="401" r="2.8" />
<ellipse cx="376.5" cy="405.5" rx="5.5" ry="6" transform="rotate(-20 376.5 405.5)" stroke-width="1.3"/>
<circle cx="377" cy="405.5" r="2.8" />
<path d="M280,311 L280,350" stroke-dasharray="2,1.5"/>
<path d="M318,328 L318,335" stroke-dasharray="2,1.5"/>
<path d="M286.0,316.0 L300.0,322.0" />
<line x1="302.6" y1="280" x2="299.4" y2="290" />
<path d="M294.5,304.5 L294.5,313.0" />
<line x1="304.3" y1="317.6" x2="294.5" y2="334" />
<line x1="311.6" y1="327.3" x2="304.3" y2="342" />
<line x1="327" y1="323.3" x2="314" y2="345" />
<line x1="337" y1="329" x2="324" y2="351.5" />
<line x1="346.7" y1="338.8" x2="336" y2="357" />
<line x1="359" y1="345.3" x2="350" y2="362" />
<line x1="368" y1="351.8" x2="356" y2="370" />
<line x1="381" y1="358" x2="362" y2="373" />
<line x1="391" y1="369" x2="378" y2="380" />
<path d="M317.0,334.0 L381.0,370.0 L381.0,380.0" />
<path d="M357.6,440.3 L395.0,418.3 A6.3,6.3 0 1 0 389.8,409.7 L352.4,431.7 A6.3,6.3 0 1 0 357.6,440.3Z" stroke-width="1.3"/>
<circle cx="355" cy="436" r="3.15" stroke-width="1.5"/>
<circle cx="392.4" cy="414" r="3.15" stroke-width="1.5"/>
<path d="M367.2,431.1 L382.2,422.3 L380.2,418.9 L365.2,427.7Z" />
<circle cx="400" cy="421" r="4.5" stroke-width="1.5"/>
<circle cx="400" cy="421" r="2" stroke-width="1.3"/>
<circle cx="408.7" cy="426" r="4.2" stroke-width="1.5"/>
<circle cx="408.7" cy="426" r="1.8" stroke-width="1.3"/>
<circle cx="363.3" cy="442" r="4" stroke-width="1.5"/>
<circle cx="363.3" cy="442" r="1.7" stroke-width="1.3"/>
<circle cx="370.7" cy="445.6" r="4" stroke-width="1.5"/>
<circle cx="370.7" cy="445.6" r="1.7" stroke-width="1.3"/>
<path d="M374.0,444.0 L389.0,452.0" />
<path d="M372.0,449.0 L387.0,457.0" />
<path d="M377,447 L386,452" stroke-width="2.2" stroke-dasharray="1,1"/>
<ellipse cx="391.5" cy="456.6" rx="4.5" ry="5" transform="rotate(-20 391.5 456.6)" stroke-width="1.3"/>
<circle cx="311.9" cy="410" r="4.5" stroke-width="1.5"/>
<circle cx="311.9" cy="410" r="2" stroke-width="1.3"/>
<circle cx="320.4" cy="415" r="4" stroke-width="1.5"/>
<circle cx="320.4" cy="415" r="1.7" stroke-width="1.3"/>
<circle cx="327.8" cy="421" r="2.3" />
<ellipse cx="341.3" cy="428.4" rx="5" ry="5.8" transform="rotate(-20 341.3 428.4)" stroke-width="1.3"/>
<circle cx="341.5" cy="428.4" r="2.4" />
<path d="M330.0,419.0 L338.0,423.0" />
<path d="M328.0,425.0 L336.0,432.0" />
<ellipse cx="336" cy="403" rx="3" ry="4" transform="rotate(-20 336 403)" />
<path d="M338.0,400.0 L364.0,412.0 L364.0,417.0 L336.0,407.0" />
<path d="M347,407 L356,411" stroke-width="2.2" stroke-dasharray="1,1"/>
<line x1="299.6" y1="430" x2="310.6" y2="414" />
<line x1="311.9" y1="433.3" x2="319.2" y2="419" />
<line x1="319.2" y1="444.4" x2="332.7" y2="423.5" />
<path d="M336.0,432.0 L345.0,450.5 L353.5,441.0" />
<line x1="356" y1="453" x2="362" y2="446" />
<line x1="437" y1="392" x2="366" y2="394" />
<line x1="437" y1="402" x2="381" y2="405" />
<line x1="437" y1="418" x2="404" y2="417" />
<line x1="430" y1="433" x2="412" y2="424" />
<line x1="437" y1="447" x2="374" y2="442" />
<line x1="437" y1="459" x2="396" y2="457.8" />
<path d="M307.0,285.5 L381.0,328.0" />
<path d="M303.5,290.5 L378.0,333.0" />
<path d="M301.0,287.0 L305.0,284.0 L308.0,287.0 L304.0,291.0Z" />
<path d="M341.0,306.0 L344.0,308.0 L342.0,311.0 L339.0,309.0" />
<path d="M375.0,325.0 L384.0,330.0 L382.0,334.0 L373.0,329.0Z" fill="#888"/>
<line x1="384.3" y1="309.4" x2="377" y2="324" />
<path d="M393.0,326.7 L466.5,365.0" />
<path d="M397.6,348.7 L456.4,380.5" />
<path d="M393,326.7 Q384,329 385.8,338 L387,342" />
<path d="M388.5,343.5 L391.0,346.0" />
<ellipse cx="461.3" cy="373" rx="6.3" ry="9" transform="rotate(-28 461.3 373)" stroke-width="1.4"/>
<ellipse cx="462.5" cy="372.3" rx="4.3" ry="7" transform="rotate(-28 462.5 372.3)" stroke-width="1.6"/>
<line x1="440" y1="337.5" x2="434.5" y2="349" />
<path d="M474.0,372.0 L491.0,378.0" />
<path d="M468.0,388.0 L483.0,395.0" />
<path d="M474.0,372.0 C473.2,372.8 470.2,375.2 469.0,377.0 C467.8,378.8 467.2,381.2 467.0,383.0 C466.8,384.8 467.8,387.2 468.0,388.0" />
<ellipse cx="487" cy="387" rx="6.5" ry="9.5" transform="rotate(-25 487 387)" />
<ellipse cx="487" cy="387" rx="4" ry="6" transform="rotate(-25 487 387)" />
<path d="M485.0,383.0 L490.0,386.0 L486.0,391.0" />
<line x1="487" y1="361" x2="480" y2="373" />
<path d="M497.0,387.0 L516.0,395.0" />
<path d="M492.0,399.0 L510.0,406.0" />
<path d="M497.0,387.0 C496.3,387.7 493.8,389.0 493.0,391.0 C492.2,393.0 492.2,397.7 492.0,399.0" />
<ellipse cx="512" cy="401" rx="5" ry="7" transform="rotate(-25 512 401)" />
<ellipse cx="512" cy="401" rx="2.8" ry="4" transform="rotate(-25 512 401)" />
<line x1="515" y1="374" x2="507" y2="392" />
<path d="M517,404 L524,407" stroke-dasharray="2,1.5"/>
<ellipse cx="530" cy="411" rx="5.5" ry="7.5" transform="rotate(-25 530 411)" stroke-width="1.6"/>
<ellipse cx="530.5" cy="411" rx="3.5" ry="5" transform="rotate(-25 530.5 411)" />
<line x1="537" y1="388" x2="531" y2="404" />
<ellipse cx="543" cy="417" rx="7" ry="10" transform="rotate(-25 543 417)" />
<circle cx="543.5" cy="417" r="1.8" />
<line x1="557" y1="394" x2="548" y2="407" />
<path d="M550.0,420.0 L555.0,417.0 L559.0,420.0 L559.0,425.0 L554.0,428.0 L550.0,425.0Z" />
<circle cx="554.5" cy="422.5" r="2" />
<line x1="573" y1="402" x2="560" y2="419" />
</g>
<text x="333.6" y="36.6" text-anchor="middle">36</text>
<text x="356.6" y="35.4" text-anchor="middle">3</text>
<text x="384.5" y="36.6" text-anchor="middle">37</text>
<text x="515.0" y="37.5" text-anchor="middle">1</text>
<text x="297.5" y="111.0" text-anchor="middle">8</text>
<text x="298.1" y="125.0" text-anchor="middle">9</text>
<text x="296.5" y="141.5" text-anchor="middle">2</text>
<text x="311.0" y="145.0" text-anchor="middle">3</text>
<text x="323.0" y="154.0" text-anchor="middle">4</text>
<text x="359.0" y="146.0" text-anchor="middle">7</text>
<text x="435.7" y="131.4" text-anchor="middle">5</text>
<text x="455.0" y="131.4" text-anchor="middle">6</text>
<text x="228.5" y="158.0" text-anchor="middle">10</text>
<text x="263.5" y="175.0" text-anchor="middle">13</text>
<text x="279.5" y="181.0" text-anchor="middle">11</text>
<text x="295.5" y="189.0" text-anchor="middle">12</text>
<text x="158.0" y="193.0" text-anchor="middle">14</text>
<text x="196.0" y="214.0" text-anchor="middle">15</text>
<text x="92.5" y="217.0" text-anchor="middle">27</text>
<text x="110.5" y="227.0" text-anchor="middle">28</text>
<text x="126.5" y="233.0" text-anchor="middle">29</text>
<text x="141.5" y="243.0" text-anchor="middle">30</text>
<text x="163.0" y="254.0" text-anchor="middle">31</text>
<text x="494.2" y="262.5" text-anchor="middle">35</text>
<text x="406.2" y="276.0" text-anchor="middle">15</text>
<text x="407.0" y="290.0" text-anchor="middle">16</text>
<text x="438.0" y="276.0" text-anchor="middle">38</text>
<text x="195.0" y="275.0" text-anchor="middle">19</text>
<text x="210.0" y="275.0" text-anchor="middle">12</text>
<text x="225.0" y="275.0" text-anchor="middle">22</text>
<text x="292.5" y="303.8" text-anchor="middle">16</text>
<text x="302.5" y="315.0" text-anchor="middle">17</text>
<text x="383.5" y="307.5" text-anchor="middle">32</text>
<text x="312.5" y="325.0" text-anchor="middle">18</text>
<text x="327.5" y="321.0" text-anchor="middle">19</text>
<text x="341.5" y="326.0" text-anchor="middle">20</text>
<text x="347.5" y="337.5" text-anchor="middle">21</text>
<text x="363.5" y="342.5" text-anchor="middle">20</text>
<text x="377.5" y="349.0" text-anchor="middle">19</text>
<text x="388.5" y="357.5" text-anchor="middle">18</text>
<text x="398.5" y="369.0" text-anchor="middle">17</text>
<text x="442.0" y="335.0" text-anchor="middle">33</text>
<text x="277.5" y="341.0" text-anchor="middle">23</text>
<text x="292.5" y="352.5" text-anchor="middle">24</text>
<text x="243.0" y="357.5" text-anchor="middle">23</text>
<text x="167.5" y="362.5" text-anchor="middle">10</text>
<text x="179.5" y="373.0" text-anchor="middle">11</text>
<text x="197.0" y="378.0" text-anchor="middle">19</text>
<text x="210.5" y="389.0" text-anchor="middle">25</text>
<text x="224.0" y="399.0" text-anchor="middle">26</text>
<text x="238.0" y="409.0" text-anchor="middle">11</text>
<text x="252.0" y="414.0" text-anchor="middle">12</text>
<text x="276.0" y="427.0" text-anchor="middle">10</text>
<text x="293.0" y="440.0" text-anchor="middle">12</text>
<text x="308.5" y="446.0" text-anchor="middle">11</text>
<text x="315.8" y="459.0" text-anchor="middle">26</text>
<text x="332.0" y="462.5" text-anchor="middle">25</text>
<text x="356.5" y="465.0" text-anchor="middle">19</text>
<text x="337.0" y="421.0" text-anchor="middle">23</text>
<text x="445.8" y="396.0" text-anchor="middle">24</text>
<text x="447.0" y="407.5" text-anchor="middle">23</text>
<text x="447.5" y="424.0" text-anchor="middle">19</text>
<text x="447.5" y="439.0" text-anchor="middle">12</text>
<text x="447.5" y="452.5" text-anchor="middle">11</text>
<text x="447.5" y="465.0" text-anchor="middle">10</text>
<text x="487.5" y="361.0" text-anchor="middle">31</text>
<text x="515.0" y="374.0" text-anchor="middle">30</text>
<text x="537.5" y="387.0" text-anchor="middle">29</text>
<text x="557.0" y="394.0" text-anchor="middle">34</text>
<text x="573.5" y="401.0" text-anchor="middle">27</text>
<text x="521.7" y="275" textLength="61" lengthAdjust="spacingAndGlyphs" style="font-size:7.6px;font-style:italic;font-weight:bold">comprende/include</text>
<text x="552.7" y="288.7" text-anchor="middle" style="font-size:15.4px">29,30,31,33</text>
</svg></body></html>
